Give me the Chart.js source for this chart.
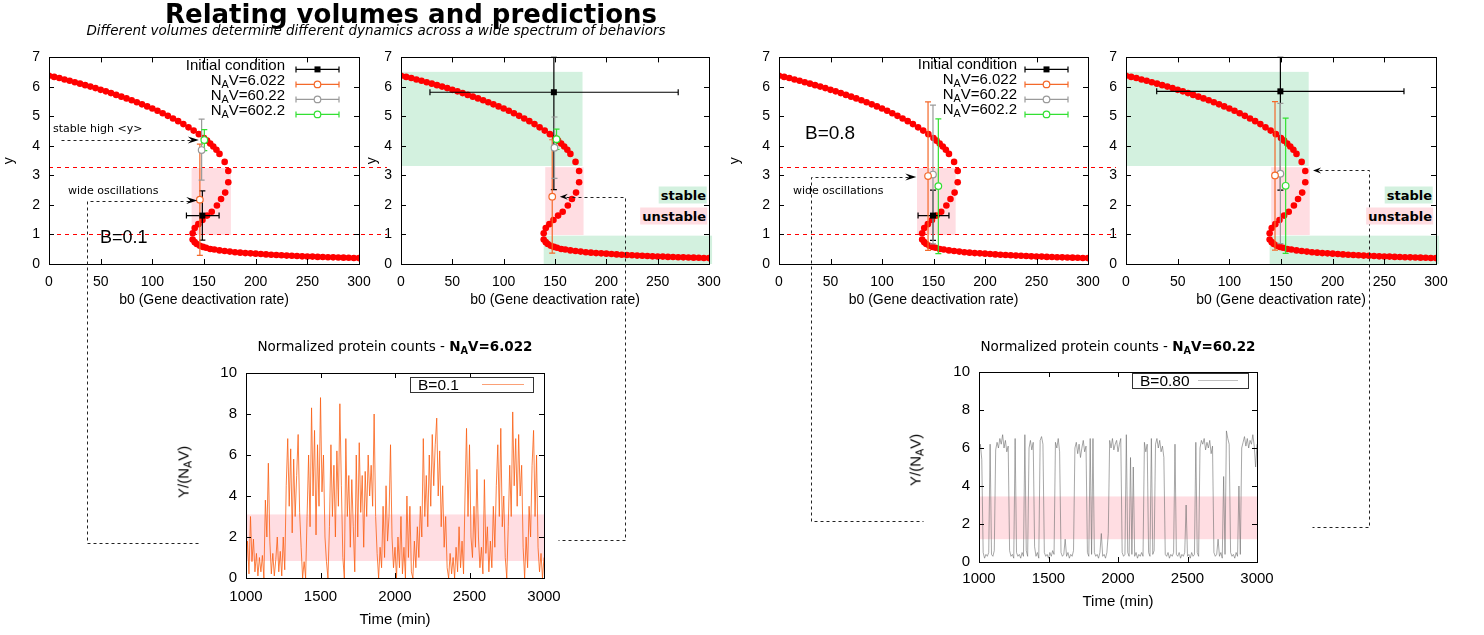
<!DOCTYPE html>
<html>
<head>
<meta charset="utf-8">
<script src="https://cdn.jsdelivr.net/npm/chart.js@4.4.0/dist/chart.umd.min.js"></script>
<style>
  body { margin: 0; width: 1484px; height: 635px; background: #fff; position: relative; overflow: hidden; }
  canvas { position: absolute; }
  .t { position: absolute; white-space: nowrap; color: #000; line-height: 1; font-family: 'Liberation Sans', Arial, sans-serif; z-index: 6; }
  .mid { transform: translate(-50%, -50%); }
  .rgt { transform: translate(-100%, -50%); }
  .lft { transform: translate(0, -50%); }
  .rot { transform: translate(-50%, -50%) rotate(-90deg); }
  .dj { font-family: 'DejaVu Sans', sans-serif; }
  sub { font-size: 0.72em; vertical-align: -0.28em; line-height: 0; }
  .tag { font-family: 'DejaVu Sans', sans-serif; font-weight: bold; font-size: 13px; padding: 2px 1px 2px 2px; }
</style>
</head>
<body>
<canvas id="p1" width="389" height="280" style="left:1px;top:40px"></canvas>
<canvas id="p2" width="376" height="280" style="left:364px;top:40px"></canvas>
<canvas id="p3" width="393" height="280" style="left:727px;top:40px"></canvas>
<canvas id="p4" width="394" height="280" style="left:1090px;top:40px"></canvas>
<canvas id="b1" width="400" height="305" style="left:172px;top:330px"></canvas>
<canvas id="b2" width="390" height="305" style="left:900px;top:330px"></canvas>
<canvas id="links" width="1484" height="635" style="left:0;top:0;z-index:5"></canvas>

<div class="t dj mid" style="left:411px;top:14px;font-size:26px;font-weight:bold">Relating volumes and predictions</div>
<div class="t dj mid" style="left:376px;top:31px;font-size:13.5px;font-style:italic">Different volumes determine different dynamics across a wide spectrum of behaviors</div>

<div class="t rgt" style="left:285px;top:64px;font-size:15px">Initial condition</div>
<div class="t rgt" style="left:285px;top:79px;font-size:15px">N<sub>A</sub>V=6.022</div>
<div class="t rgt" style="left:285px;top:94px;font-size:15px">N<sub>A</sub>V=60.22</div>
<div class="t rgt" style="left:285px;top:109px;font-size:15px">N<sub>A</sub>V=602.2</div>
<div class="t rgt" style="left:1017px;top:63px;font-size:15px">Initial condition</div>
<div class="t rgt" style="left:1017px;top:78px;font-size:15px">N<sub>A</sub>V=6.022</div>
<div class="t rgt" style="left:1017px;top:93px;font-size:15px">N<sub>A</sub>V=60.22</div>
<div class="t rgt" style="left:1017px;top:108px;font-size:15px">N<sub>A</sub>V=602.2</div>

<div class="t lft" style="left:100px;top:237px;font-size:18px">B=0.1</div>
<div class="t lft" style="left:805px;top:132px;font-size:19px">B=0.8</div>
<div class="t dj lft" style="left:53px;top:128px;font-size:11px">stable high &lt;y&gt;</div>
<div class="t dj lft" style="left:68px;top:190px;font-size:11px">wide oscillations</div>
<div class="t dj lft" style="left:793px;top:190px;font-size:11px">wide oscillations</div>

<div class="t rgt tag" style="left:707px;top:195px;background:#d3f1df">stable</div>
<div class="t rgt tag" style="left:707px;top:216px;background:#ffdde2">unstable</div>
<div class="t rgt tag" style="left:1433px;top:195px;background:#d3f1df">stable</div>
<div class="t rgt tag" style="left:1433px;top:216px;background:#ffdde2">unstable</div>

<div class="t dj mid" style="left:395px;top:347px;font-size:13.5px">Normalized protein counts - <b>N<sub>A</sub>V=6.022</b></div>
<div class="t dj mid" style="left:1118px;top:347px;font-size:13.5px">Normalized protein counts - <b>N<sub>A</sub>V=60.22</b></div>
<div class="t rot" style="left:183px;top:472px;font-size:15px">Y/(N<sub>A</sub>V)</div>
<div class="t rot" style="left:915px;top:460px;font-size:15px">Y/(N<sub>A</sub>V)</div>
<div class="t lft" style="left:418px;top:385px;font-size:15.5px">B=0.1</div>
<div class="t lft" style="left:1140px;top:381px;font-size:15.5px">B=0.80</div>

<script>
// bifurcation curve y*(b0), same for both B values
const upperB0 = [0, 5, 10, 15, 20, 25, 30, 35, 40, 45, 50, 55, 60, 65, 70, 75, 80, 85, 90, 95,
  100, 105, 110, 115, 120, 125, 130, 135, 140, 145, 150, 153, 156, 159, 162, 165, 170, 173.5];
const upperY = [6.38, 6.34, 6.30, 6.25, 6.21, 6.16, 6.11, 6.06, 6.01, 5.96, 5.90, 5.85, 5.79, 5.73, 5.67, 5.61, 5.55, 5.48, 5.41, 5.34,
  5.27, 5.19, 5.11, 5.02, 4.93, 4.84, 4.74, 4.63, 4.52, 4.40, 4.27, 4.18, 4.08, 3.98, 3.87, 3.73, 3.46, 3.15];
const middleB0 = [173.5, 170.5, 166.5, 162.5, 157.5, 153, 148.5, 144.5, 141, 139];
const middleY = [2.77, 2.42, 2.20, 1.98, 1.77, 1.64, 1.49, 1.35, 1.22, 1.04];
const lowerB0 = [139, 141, 143, 146, 149, 152, 156, 160, 165, 170, 175, 180, 185, 190, 195, 200, 205, 210,
  215, 220, 225, 230, 235, 240, 245, 250, 255, 260, 265, 270, 275, 280, 285, 290, 295, 300];
const lowerY = [0.83, 0.74, 0.68, 0.62, 0.58, 0.55, 0.51, 0.49, 0.46, 0.44, 0.42, 0.40, 0.385, 0.37, 0.36, 0.35, 0.34, 0.325,
  0.315, 0.305, 0.295, 0.285, 0.28, 0.27, 0.26, 0.255, 0.25, 0.24, 0.235, 0.23, 0.225, 0.22, 0.215, 0.21, 0.205, 0.20];

// thresholds and regions (y units / b0 units)
const thresholdY = [3.27, 1.0];
const unstableB0B01 = [138, 176];
const unstableB0B08 = [134, 171.5];
const unstableY = [0.98, 3.25];
const stableHighRegion = [0, 176.8, 3.32, 6.51];
const unstableRegion = [140.5, 177.8, 0.98, 3.28];
const stableLowRegion = [139, 303, 0.0, 0.96];

// error bar points: Initial condition, NAV=6.022, NAV=60.22, NAV=602.2
const seriesNames = ['Initial condition', 'NAV=6.022', 'NAV=60.22', 'NAV=602.2'];
const b01LeftX = [148.4, 146, 147.7, 150.3];
const b01LeftY = [1.64, 2.18, 3.86, 4.2];
const b01LeftYLo = [0.81, 0.29, 2.84, 3.84];
const b01LeftYHi = [2.48, 4.06, 4.91, 4.55];
const b01LeftXErr = [133, 164.6];
const b01RightX = [148.9, 147.3, 149.5, 151.5];
const b01RightY = [5.82, 2.28, 3.94, 4.23];
const b01RightYLo = [2.52, 0.37, 2.9, 3.88];
const b01RightYHi = [7.0, 4.21, 4.98, 4.57];
const b01RightXErr = [28.2, 270];
const b08LeftX = [149.5, 144.7, 149.5, 154.7];
const b08LeftY = [1.64, 2.98, 3.03, 2.64];
const b08LeftYLo = [0.8, 0.46, 0.68, 0.35];
const b08LeftYHi = [2.5, 5.49, 5.38, 4.92];
const b08LeftXErr = [135, 165];
const b08RightX = [149.4, 144.2, 149.4, 154.5];
const b08RightY = [5.85, 3.0, 3.06, 2.65];
const b08RightYLo = [2.5, 0.47, 0.69, 0.36];
const b08RightYHi = [7.0, 5.5, 5.44, 4.94];
const b08RightXErr = [29.7, 269];

// time series, one value every 10 min from 1000 to 3000
const timeStart = 1000;
const timeStep = 10;
const proteinB01 = [
  0.4, 1.8, 0.2, 3.0, 0.8, 1.9, 0.3, 1.2, 0.1, 1.0,
  0.3, 1.1, 0.0, 3.8, 2.0, 5.6, 1.8, 0.2, 1.2, 0.1,
  0.9, 2.0, 0.3, 1.3, 0.1, 2.0, 0.4, 4.5, 6.8, 3.5,
  6.3, 2.2, 5.8, 3.0, 5.0, 7.0, 3.2, 1.5, 0.0, 0.8,
  0.0, 3.0, 6.0, 2.5, 8.3, 4.0, 7.2, 2.1, 6.5, 3.5,
  8.8, 4.2, 6.0, 2.0, 0.8, 0.0, 2.5, 6.5, 3.0, 5.5,
  2.0, 6.2, 3.5, 8.5, 4.5, 1.0, 0.0, 6.8, 3.0, 5.0,
  1.5, 4.8, 2.5, 0.3, 6.0, 2.0, 6.6, 3.2, 5.0, 1.5,
  5.2, 3.0, 6.0, 4.0, 5.5, 3.5, 8.0, 3.0, 1.2, 0.0,
  1.5, 0.5, 3.5, 1.0, 4.5, 1.8, 3.0, 6.5, 2.0, 0.5,
  1.5, 0.0, 2.0, 0.5, 3.0, 0.2, 1.5, 0.0, 4.0, 1.0,
  3.5, 0.3, 0.0, 1.8, 0.5, 2.5, 1.0, 3.5, 2.0, 6.8,
  3.0, 5.0, 2.5, 6.0, 3.5, 7.0, 4.5, 6.5, 7.8, 4.0,
  6.2, 2.5, 4.5, 1.5, 3.0, 0.5, 0.0, 1.2, 0.2, 1.0,
  0.0, 1.5, 0.3, 2.5, 0.5, 1.8, 0.2, 4.0, 7.3, 3.0,
  6.5, 2.0, 1.0, 3.5, 1.5, 5.3, 2.0, 0.5, 1.5, 0.2,
  4.8, 1.2, 2.5, 0.3, 1.8, 0.5, 3.5, 1.5, 4.5, 6.5,
  3.0, 7.3, 2.5, 4.0, 1.0, 0.0, 2.5, 5.5, 3.0, 8.1,
  4.5, 6.8, 3.5, 7.0, 4.0, 5.5, 1.5, 0.0, 2.0, 0.5,
  3.5, 2.0, 5.5, 7.2, 3.0, 6.0, 1.5, 0.3, 1.2, 0.0,
  1.0
];
const proteinB08 = [
  5.8, 6.2, 5.4, 0.5, 0.2, 0.4, 0.3, 0.5, 6.2, 0.4,
  0.3, 0.6, 5.9, 6.3, 6.0, 6.5, 6.2, 6.7, 6.0, 6.4,
  5.8, 6.1, 0.6, 0.3, 0.4, 0.2, 6.5, 0.5, 0.3, 0.4,
  0.2, 0.5, 0.3, 6.7, 0.6, 0.3, 6.0, 6.4, 5.9, 6.3,
  0.8, 0.3, 0.5, 0.2, 6.4, 6.6, 6.2, 0.5, 0.3, 0.4,
  0.2, 0.5, 0.3, 0.6, 0.4, 6.3, 6.0, 6.5, 5.8, 0.5,
  0.3, 0.4, 1.2, 0.3, 0.5, 0.2, 0.4, 0.3, 0.6, 6.0,
  6.3, 5.7, 6.2, 5.5, 6.0, 6.4, 5.8, 6.1, 0.5, 0.3,
  6.5, 0.4, 6.5, 0.5, 0.3, 0.4, 0.2, 0.5, 1.5, 0.3,
  0.4, 0.2, 0.5, 1.5, 6.4, 6.0, 6.5, 5.9, 6.2, 6.4,
  5.8, 6.2, 6.5, 0.5, 0.3, 0.4, 6.7, 0.5, 0.3, 5.5,
  0.4, 5.0, 0.3, 0.5, 0.2, 0.4, 0.3, 0.5, 0.3, 6.3,
  5.8, 6.2, 0.5, 0.3, 6.5, 0.4, 0.6, 6.2, 6.5, 6.0,
  6.4, 5.8, 6.1, 5.5, 0.4, 0.3, 0.5, 0.2, 0.4, 0.3,
  0.5, 6.2, 0.4, 0.3, 0.5, 0.2, 0.4, 0.3, 0.5, 3.0,
  0.3, 0.4, 0.2, 0.5, 0.3, 0.4, 6.3, 0.5, 0.3, 6.0,
  6.4, 6.2, 6.5, 5.9, 6.3, 6.0, 6.4, 5.7, 6.1, 0.5,
  0.3, 0.4, 1.2, 0.3, 0.5, 0.2, 4.5, 0.4, 6.9, 6.5,
  6.2, 0.5, 0.3, 0.4, 0.2, 0.5, 0.3, 4.0, 0.4, 6.0,
  6.3, 6.6, 6.1, 6.5, 6.0, 6.4, 6.2, 6.7, 6.1, 5.0,
  6.2
];
const bandB01 = [0.83, 3.1];
const bandB08 = [1.2, 3.45];

const FONT = "'Liberation Sans', Arial, sans-serif";
const ORANGE = '#f4692a';
const GRAY = '#9a9a9a';
const GREEN = '#33e033';
const RED = '#ff0000';
const markerColors = ['#000', ORANGE, GRAY, GREEN];

const curve = []
  .concat(upperB0.map((b, i) => ({ x: b, y: upperY[i] })))
  .concat(middleB0.map((b, i) => ({ x: b, y: middleY[i] })))
  .concat(lowerB0.map((b, i) => ({ x: b, y: lowerY[i] })));

const cfgs = {};

function frameAndTicks(chart) {
  const { ctx, chartArea: a, scales: { x, y } } = chart;
  ctx.save();
  ctx.strokeStyle = '#000';
  ctx.lineWidth = 1;
  ctx.beginPath();
  x.ticks.forEach(t => {
    const px = Math.round(x.getPixelForValue(t.value)) + 0.5;
    ctx.moveTo(px, a.bottom); ctx.lineTo(px, a.bottom - 5);
    ctx.moveTo(px, a.top); ctx.lineTo(px, a.top + 5);
  });
  y.ticks.forEach(t => {
    const py = Math.round(y.getPixelForValue(t.value)) + 0.5;
    ctx.moveTo(a.left, py); ctx.lineTo(a.left + 5, py);
    ctx.moveTo(a.right, py); ctx.lineTo(a.right - 5, py);
  });
  ctx.stroke();
  ctx.strokeRect(Math.round(a.left) + 0.5, Math.round(a.top) + 0.5, Math.round(a.right - a.left), Math.round(a.bottom - a.top));
  ctx.restore();
}

function marker(ctx, kind, px, py, color) {
  if (kind === 0) {
    ctx.fillStyle = color;
    ctx.fillRect(px - 3, py - 3, 6, 6);
  } else {
    ctx.beginPath();
    ctx.arc(px, py, 3.3, 0, Math.PI * 2);
    ctx.fillStyle = '#fff';
    ctx.fill();
    ctx.strokeStyle = color;
    ctx.stroke();
  }
}

function errorBars(chart, pts) {
  const { ctx, scales: { x, y } } = chart;
  ctx.save();
  ctx.lineWidth = 1.2;
  for (let i = 0; i < pts.xs.length; i++) {
    const c = markerColors[i];
    const px = x.getPixelForValue(pts.xs[i]);
    const py = y.getPixelForValue(pts.ys[i]);
    const lo = y.getPixelForValue(pts.lo[i]);
    const hi = y.getPixelForValue(pts.hi[i]);
    ctx.strokeStyle = c;
    ctx.beginPath();
    ctx.moveTo(px, lo); ctx.lineTo(px, hi);
    ctx.moveTo(px - 3, lo); ctx.lineTo(px + 3, lo);
    ctx.moveTo(px - 3, hi); ctx.lineTo(px + 3, hi);
    if (i === 0) {
      const l = x.getPixelForValue(pts.xerr[0]);
      const r = x.getPixelForValue(pts.xerr[1]);
      ctx.moveTo(l, py); ctx.lineTo(r, py);
      ctx.moveTo(l, py - 3); ctx.lineTo(l, py + 3);
      ctx.moveTo(r, py - 3); ctx.lineTo(r, py + 3);
    }
    ctx.stroke();
  }
  for (let i = pts.xs.length - 1; i >= 0; i--) {
    marker(ctx, i, x.getPixelForValue(pts.xs[i]), y.getPixelForValue(pts.ys[i]), markerColors[i]);
  }
  ctx.restore();
}

function legendSamples(chart, rows) {
  const { ctx, chartArea: a } = chart;
  ctx.save();
  ctx.lineWidth = 1.2;
  seriesNames.forEach((n, i) => {
    const c = markerColors[i];
    const yy = a.top + rows[i];
    const x0 = a.right - 63, x1 = a.right - 20;
    ctx.strokeStyle = c;
    ctx.beginPath();
    ctx.moveTo(x0, yy); ctx.lineTo(x1, yy);
    ctx.moveTo(x0, yy - 3); ctx.lineTo(x0, yy + 3);
    ctx.moveTo(x1, yy - 3); ctx.lineTo(x1, yy + 3);
    ctx.stroke();
    marker(ctx, i, (x0 + x1) / 2, yy, c);
  });
  ctx.restore();
}

const topDeco = {
  id: 'topDeco',
  beforeDatasetsDraw(chart) {
    const cfg = cfgs[chart.canvas.id];
    const { ctx, chartArea: a, scales: { x, y } } = chart;
    ctx.save();
    cfg.boxes.forEach(b => {
      const x0 = x.getPixelForValue(b[0]), x1 = x.getPixelForValue(b[1]);
      const y0 = y.getPixelForValue(b[2]), y1 = y.getPixelForValue(b[3]);
      ctx.fillStyle = b[4];
      ctx.fillRect(x0, y1, x1 - x0, y0 - y1);
    });
    if (cfg.thresholds) {
      ctx.lineWidth = 1;
      ctx.setLineDash([4, 4]);
      thresholdY.forEach(v => {
        const py = Math.round(y.getPixelForValue(v)) + 0.5;
        ctx.strokeStyle = RED;
        ctx.beginPath();
        ctx.moveTo(a.left, py); ctx.lineTo(a.right + 28, py);
        ctx.stroke();
      });
    }
    ctx.restore();
  },
  afterDatasetsDraw(chart) {
    const cfg = cfgs[chart.canvas.id];
    errorBars(chart, cfg.points);
    frameAndTicks(chart);
    if (cfg.legend) legendSamples(chart, [12, 27, 42, 57]);
  }
};

function topPanel(id, cfg) {
  cfgs[id] = cfg;
  return new Chart(document.getElementById(id), {
    type: 'scatter',
    data: {
      datasets: [{
        data: curve,
        pointRadius: 3.3,
        pointBackgroundColor: RED,
        pointBorderWidth: 0,
        showLine: false,
      }],
    },
    options: {
      responsive: false,
      animation: false,
      events: [],
      layout: { padding: { left: 0, top: 12, right: cfg.padRight, bottom: 0 } },
      plugins: { legend: { display: false }, tooltip: { enabled: false } },
      scales: {
        x: {
          type: 'linear', min: 0, max: 300,
          grid: { display: false, drawTicks: false }, border: { display: false },
          ticks: { stepSize: 50, padding: 10, color: '#000', font: { size: 14, family: FONT } },
          title: { display: true, text: 'b0 (Gene deactivation rate)', color: '#000', font: { size: 14, family: FONT }, padding: { top: 0, bottom: 11 } },
          afterFit: s => { s.height = 56; },
        },
        y: {
          type: 'linear', min: 0, max: 7,
          grid: { display: false, drawTicks: false }, border: { display: false },
          ticks: { stepSize: 1, padding: 9, color: '#000', font: { size: 14, family: FONT } },
          title: { display: cfg.yTitle, text: 'y', color: '#000', font: { size: 14, family: FONT }, padding: { top: 0, bottom: 0 } },
          afterFit: s => { s.width = cfg.yWidth; },
        },
      },
    },
    plugins: [topDeco],
  });
}

const PINK = '#ffdde2';
const MINT = '#d3f1df';

const p1 = topPanel('p1', {
  yWidth: 48, padRight: 31, yTitle: true, legend: true, thresholds: true,
  boxes: [[unstableB0B01[0], unstableB0B01[1], unstableY[0], unstableY[1], PINK]],
  points: { xs: b01LeftX, ys: b01LeftY, lo: b01LeftYLo, hi: b01LeftYHi, xerr: b01LeftXErr },
});
const p2 = topPanel('p2', {
  yWidth: 37, padRight: 31, yTitle: true, legend: false, thresholds: false,
  boxes: [stableHighRegion.concat([MINT]), unstableRegion.concat([PINK]), stableLowRegion.concat([MINT])],
  points: { xs: b01RightX, ys: b01RightY, lo: b01RightYLo, hi: b01RightYHi, xerr: b01RightXErr },
});
const p3 = topPanel('p3', {
  yWidth: 52, padRight: 32, yTitle: true, legend: true, thresholds: true,
  boxes: [[unstableB0B08[0], unstableB0B08[1], unstableY[0], unstableY[1], PINK]],
  points: { xs: b08LeftX, ys: b08LeftY, lo: b08LeftYLo, hi: b08LeftYHi, xerr: b08LeftXErr },
});
const p4 = topPanel('p4', {
  yWidth: 36, padRight: 48, yTitle: false, legend: false, thresholds: false,
  boxes: [stableHighRegion.concat([MINT]), unstableRegion.concat([PINK]), stableLowRegion.concat([MINT])],
  points: { xs: b08RightX, ys: b08RightY, lo: b08RightYLo, hi: b08RightYHi, xerr: b08RightXErr },
});

const bottomDeco = {
  id: 'bottomDeco',
  beforeDatasetsDraw(chart) {
    const cfg = cfgs[chart.canvas.id];
    const { ctx, chartArea: a, scales: { y } } = chart;
    const y0 = y.getPixelForValue(cfg.band[0]), y1 = y.getPixelForValue(cfg.band[1]);
    ctx.save();
    ctx.fillStyle = PINK;
    ctx.fillRect(a.left, y1, a.right - a.left, y0 - y1);
    ctx.restore();
  },
  afterDatasetsDraw(chart) {
    const cfg = cfgs[chart.canvas.id];
    const { ctx, chartArea: a } = chart;
    frameAndTicks(chart);
    ctx.save();
    const bx = a.right - cfg.box[0], by = a.top + cfg.box[1];
    ctx.fillStyle = '#fff';
    ctx.fillRect(bx, by, cfg.box[2], 15);
    ctx.strokeStyle = '#333';
    ctx.lineWidth = 1;
    ctx.strokeRect(Math.round(bx) + 0.5, Math.round(by) + 0.5, cfg.box[2], 15);
    ctx.strokeStyle = cfg.sample;
    ctx.beginPath();
    ctx.moveTo(a.right - cfg.box[3], by + 7.5);
    ctx.lineTo(a.right - cfg.box[4], by + 7.5);
    ctx.stroke();
    ctx.restore();
  }
};

function timePanel(id, cfg) {
  cfgs[id] = cfg;
  const pts = cfg.values.map((v, i) => ({ x: timeStart + i * timeStep, y: v }));
  return new Chart(document.getElementById(id), {
    type: 'line',
    data: {
      datasets: [{
        data: pts,
        borderColor: cfg.color,
        borderWidth: 1,
        pointRadius: 0,
        tension: 0,
      }],
    },
    options: {
      responsive: false,
      animation: false,
      events: [],
      layout: { padding: { left: 0, top: cfg.padTop, right: cfg.padRight, bottom: 0 } },
      plugins: { legend: { display: false }, tooltip: { enabled: false } },
      scales: {
        x: {
          type: 'linear', min: 1000, max: 3000,
          grid: { display: false, drawTicks: false }, border: { display: false },
          ticks: { stepSize: 500, padding: cfg.xTickPad, color: '#000', font: { size: 15, family: FONT }, callback: v => String(v) },
          title: { display: true, text: 'Time (min)', color: '#000', font: { size: 15, family: FONT }, padding: { top: 0, bottom: cfg.xTitlePad } },
          afterFit: s => { s.height = cfg.xHeight; },
        },
        y: {
          type: 'linear', min: 0, max: 10,
          grid: { display: false, drawTicks: false }, border: { display: false },
          ticks: { stepSize: 2, padding: 9, color: '#000', font: { size: 15, family: FONT } },
          afterFit: s => { s.width = cfg.yWidth; },
        },
      },
    },
    plugins: [bottomDeco],
  });
}

const b1 = timePanel('b1', {
  values: proteinB01, color: 'rgba(250, 95, 20, 0.8)', band: bandB01,
  yWidth: 74, padTop: 43, padRight: 28, xHeight: 57, xTickPad: 10, xTitlePad: 6,
  box: [134, 4, 123, 62, 20], sample: 'rgba(250, 120, 60, 0.7)',
});
const b2 = timePanel('b2', {
  values: proteinB08, color: 'rgba(110, 110, 110, 0.6)', band: bandB08,
  yWidth: 79, padTop: 42, padRight: 33, xHeight: 73, xTickPad: 8, xTitlePad: 24,
  box: [125, 1, 116, 59, 19], sample: 'rgba(150, 150, 150, 0.6)',
});

// connectors and arrows, computed from the charts' scales
const lk = document.getElementById('links').getContext('2d');
function pg(ch, x, y) {
  return [ch.canvas.offsetLeft + ch.scales.x.getPixelForValue(x), ch.canvas.offsetTop + ch.scales.y.getPixelForValue(y)];
}
function offX(ch, px) { return ch.canvas.offsetLeft + px; }
function dashPath(pts) {
  lk.save();
  lk.strokeStyle = '#222';
  lk.lineWidth = 1;
  lk.setLineDash([3, 3]);
  lk.beginPath();
  lk.moveTo(Math.round(pts[0][0]) + 0.5, Math.round(pts[0][1]) + 0.5);
  for (let i = 1; i < pts.length; i++) lk.lineTo(Math.round(pts[i][0]) + 0.5, Math.round(pts[i][1]) + 0.5);
  lk.stroke();
  lk.restore();
}
function head(tip, dir, len, w) {
  const [tx, ty] = tip;
  lk.save();
  lk.fillStyle = '#000';
  lk.beginPath();
  lk.moveTo(tx, ty);
  lk.lineTo(tx - dir * len, ty - w);
  lk.lineTo(tx - dir * len * 0.65, ty);
  lk.lineTo(tx - dir * len, ty + w);
  lk.closePath();
  lk.fill();
  lk.restore();
}

// stable high <y>
{
  const a = pg(p1, 12, 4.2), t = pg(p1, 145, 4.2);
  dashPath([a, [t[0] - 8, t[1]]]);
  head(t, 1, 11, 3.5);
}
// B=0.1 left -> bottom left
{
  const a = pg(p1, 36.4, 2.15), t = pg(p1, 143.5, 2.15);
  const d = pg(b1, 1000, 1.7);
  dashPath([[t[0] - 8, t[1]], a, [a[0], d[1]], [offX(b1, b1.chartArea.left) - 46, d[1]]]);
  head(t, 1, 11, 3.5);
}
// B=0.1 right -> bottom right
{
  const t = pg(p2, 154.7, 2.28), a = pg(p2, 218, 2.28);
  const d = pg(b1, 3000, 1.85);
  dashPath([[t[0] + 6, t[1]], a, [a[0], d[1]], [offX(b1, b1.chartArea.right) + 14, d[1]]]);
  head(t, -1, 8, 3);
}
// B=0.8 left -> bottom left
{
  const a = pg(p3, 31.4, 2.95), t = pg(p3, 133.3, 2.95);
  const d = pg(b2, 1000, 2.16);
  dashPath([[t[0] - 8, t[1]], a, [a[0], d[1]], [offX(b2, b2.chartArea.left) - 56, d[1]]]);
  head(t, 1, 11, 3.5);
}
// B=0.8 right -> bottom right
{
  const t = pg(p4, 181, 3.17), a = pg(p4, 235.5, 3.17);
  const d = pg(b2, 3000, 1.84);
  dashPath([[t[0] + 6, t[1]], a, [a[0], d[1]], [offX(b2, b2.chartArea.right) + 55, d[1]]]);
  head(t, -1, 8, 3);
}
</script>
</body>
</html>
